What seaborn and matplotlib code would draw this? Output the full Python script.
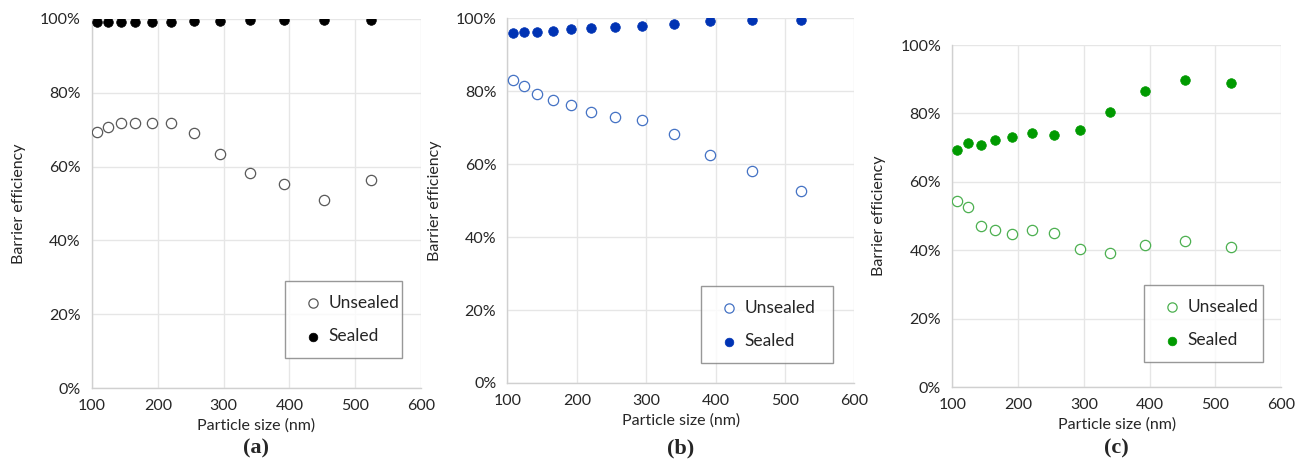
import matplotlib
matplotlib.use("Agg")
import matplotlib.pyplot as plt
import numpy as np
import pandas as pd
import seaborn as sns
from matplotlib.ticker import PercentFormatter

# ================================
# Barrier efficiency vs particle size, three materials
# ================================

particle_size = [107.5, 124.1, 143.3, 165.5, 191.1, 220.7, 254.8, 294.3, 339.8, 392.4, 453.0, 523.3]

unsealed_a = [69.3, 70.6, 71.7, 71.7, 71.8, 71.8, 69.0, 63.5, 58.2, 55.2, 50.9, 56.5]
sealed_a = [99.3, 99.3, 99.3, 99.2, 99.2, 99.3, 99.4, 99.5, 99.6, 99.6, 99.8, 99.8]

unsealed_b = [82.9, 81.3, 79.2, 77.6, 76.1, 74.4, 72.8, 72.0, 68.3, 62.6, 58.0, 52.7]
sealed_b = [96.0, 96.2, 96.3, 96.5, 96.9, 97.4, 97.6, 97.8, 98.5, 99.3, 99.6, 99.5]

unsealed_c = [54.5, 52.5, 47.1, 45.9, 44.8, 46.0, 44.9, 40.4, 39.2, 41.5, 42.7, 40.9]
sealed_c = [69.2, 71.4, 70.8, 72.1, 73.0, 74.3, 73.8, 75.2, 80.5, 86.5, 89.8, 88.8]

panel_labels = ["(a)", "(b)", "(c)"]
series_names = ["Unsealed", "Sealed"]

# colours: (unsealed edge, sealed fill)
colors = [("#595959", "#000000"), ("#4472C4", "#0033B4"), ("#4CB050", "#009A00")]

sns.set_style("white")
plt.rcParams["font.family"] = ["Lato", "DejaVu Sans"]

fig = plt.figure(figsize=(13.07, 4.69), dpi=100)

# axes positions in figure fractions (left, bottom, width, height)
positions = [
    (0.0704, 0.1727, 0.2517, 0.7868),
    (0.3882, 0.1834, 0.2655, 0.7780),
    (0.7286, 0.1748, 0.2517, 0.7292),
]
legend_boxes = [
    (0.2181, 0.2365, 0.0895, 0.1620),
    (0.5364, 0.2260, 0.1010, 0.1620),
    (0.8753, 0.2281, 0.0910, 0.1556),
]

data = [(unsealed_a, sealed_a), (unsealed_b, sealed_b), (unsealed_c, sealed_c)]

for i, (uns, sea) in enumerate(data):
    ax = fig.add_axes(positions[i])
    df = pd.DataFrame({"size": particle_size, "Unsealed": uns, "Sealed": sea})
    edge, fill = colors[i]

    sns.scatterplot(data=df, x="size", y="Unsealed", ax=ax, s=55,
                    facecolor="white", edgecolor=edge, linewidth=0.9,
                    label=series_names[0], zorder=3)
    sns.scatterplot(data=df, x="size", y="Sealed", ax=ax, s=48,
                    color=fill, edgecolor=fill, linewidth=0.5,
                    label=series_names[1], zorder=3)

    ax.set_xlim(100, 600)
    ax.set_ylim(0, 100)
    ax.set_xticks(np.arange(100, 601, 100))
    ax.set_yticks(np.arange(0, 101, 20))
    ax.yaxis.set_major_formatter(PercentFormatter(decimals=0))
    ax.grid(True, color="#e6e6e6", linewidth=1.0)
    ax.set_axisbelow(True)
    for side in ["top", "right"]:
        ax.spines[side].set_visible(False)
    for side in ["left", "bottom"]:
        ax.spines[side].set_color("#d0d0d0")
        ax.spines[side].set_linewidth(1.0)
    ax.tick_params(axis="both", length=0, labelsize=11.5, colors="#262626", pad=8)
    ax.set_xlabel("Particle size (nm)", fontsize=11.5, color="#262626", labelpad=4)
    ax.set_ylabel("Barrier efficiency", fontsize=11.5, color="#262626", labelpad=10)

    leg = ax.legend(loc="lower left", bbox_to_anchor=legend_boxes[i],
                    bbox_transform=fig.transFigure, mode="expand",
                    borderaxespad=0, fontsize=12.5, frameon=True, fancybox=False,
                    labelspacing=1.0, handletextpad=0.1, borderpad=0.8,
                    markerscale=0.9, handlelength=1.6)
    leg.get_frame().set_edgecolor("#7f7f7f")
    leg.get_frame().set_linewidth(1.0)

    x0 = positions[i][0] + positions[i][2] / 2
    fig.text(x0, 0.022, panel_labels[i], ha="center", va="bottom",
             fontsize=16, fontweight="bold", family="Liberation Serif")

fig.savefig("out.png", dpi=100)
